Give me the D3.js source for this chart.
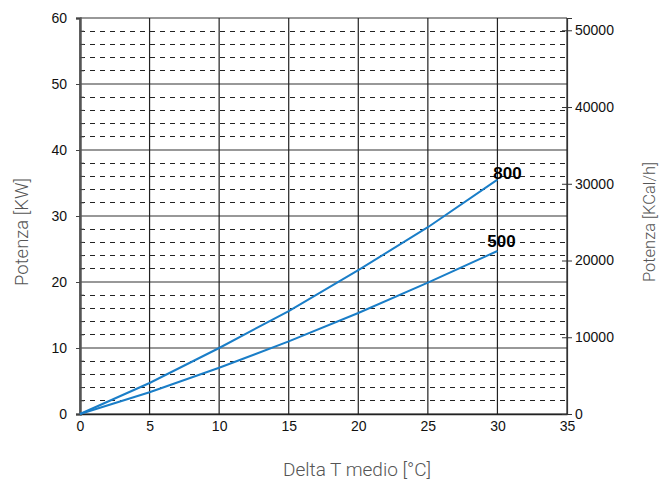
<!DOCTYPE html>
<html>
<head>
<meta charset="utf-8">
<script src="https://cdn.jsdelivr.net/npm/d3@7"></script>
<style>
  body { margin: 0; background: #fff; }
  .tick text { font-family: "Liberation Sans", Arial, sans-serif; font-size: 14px; fill: #111; }
  .title { font-family: Roboto, sans-serif; font-weight: 300; fill: #555; }
</style>
</head>
<body>
<div id="chart"></div>
<script>
var svgWidth = 660;
var svgHeight = 484;

var margin = { top: 18, right: 93, bottom: 70, left: 80 };
var width = svgWidth - margin.left - margin.right;
var height = svgHeight - margin.top - margin.bottom;

// values
var deltaT = [0, 5, 10, 15, 20, 25, 30];
var serie800 = [0, 4.7, 10, 15.6, 21.8, 28.3, 35.5];
var serie500 = [0, 3.3, 7, 11, 15.3, 19.9, 24.7];
var seriesNames = ["800", "500"];
var xTicks = [0, 5, 10, 15, 20, 25, 30, 35];
var yTicks = [0, 10, 20, 30, 40, 50, 60];
var yMinor = d3.range(0, 61, 2);
var kcalTicks = [0, 10000, 20000, 30000, 40000, 50000];

var svg = d3.select("#chart")
    .append("svg")
    .attr("width", svgWidth)
    .attr("height", svgHeight);

var chartGroup = svg.append("g")
    .attr("transform", `translate(${margin.left}, ${margin.top})`);

var x = d3.scaleLinear().domain([0, 35]).range([0, width]);
var y = d3.scaleLinear().domain([0, 60]).range([height, 0]);
var yKcal = d3.scaleLinear().domain([0, 60 * 860]).range([height, 0]);

// dashed minor grid
chartGroup.selectAll(".minor")
    .data(yMinor.filter(d => d % 10 != 0))
    .enter()
    .append("line")
    .attr("x1", 0).attr("x2", width)
    .attr("y1", d => y(d)).attr("y2", d => y(d))
    .attr("stroke", "#222")
    .attr("stroke-width", 1)
    .attr("stroke-dasharray", "5,5")
    .attr("shape-rendering", "crispEdges");

// major horizontal grid
chartGroup.selectAll(".hmajor")
    .data(yTicks)
    .enter()
    .append("line")
    .attr("x1", 0).attr("x2", width)
    .attr("y1", d => y(d)).attr("y2", d => y(d))
    .attr("stroke", "#333")
    .attr("stroke-width", 1.2);

// vertical grid
chartGroup.selectAll(".vmajor")
    .data(xTicks)
    .enter()
    .append("line")
    .attr("x1", d => x(d)).attr("x2", d => x(d))
    .attr("y1", 0).attr("y2", height)
    .attr("stroke", "#222")
    .attr("stroke-width", 1.2);

// left axis
var leftAxis = d3.axisLeft(y).tickValues(yTicks).tickSize(4).tickPadding(9);
var gLeft = chartGroup.append("g").call(leftAxis);
gLeft.select(".domain").attr("stroke", "#555").attr("stroke-width", 2.5);
gLeft.selectAll(".tick line").attr("stroke", "#444");

// minor inner ticks on the left
chartGroup.selectAll(".mtick")
    .data(yMinor.filter(d => d % 10 != 0))
    .enter()
    .append("line")
    .attr("x1", 0).attr("x2", 4)
    .attr("y1", d => y(d)).attr("y2", d => y(d))
    .attr("stroke", "#444");

// bottom axis
var bottomAxis = d3.axisBottom(x).tickValues(xTicks).tickSize(0).tickPadding(7);
var gBottom = chartGroup.append("g")
    .attr("transform", `translate(0, ${height})`)
    .call(bottomAxis);
gBottom.select(".domain").attr("stroke", "#222").attr("stroke-width", 1.5);

// right axis (KCal/h)
var rightAxis = d3.axisRight(yKcal).tickValues(kcalTicks).tickSize(5).tickPadding(3)
    .tickFormat(d3.format("d"));
var gRight = chartGroup.append("g")
    .attr("transform", `translate(${width}, 0)`)
    .call(rightAxis);
gRight.select(".domain").attr("stroke", "#333").attr("stroke-width", 1.2);
gRight.selectAll(".tick line").attr("x1", -5).attr("stroke", "#333");

// curves
var line = d3.line()
    .x((d, i) => x(deltaT[i]))
    .y(d => y(d));

var labelDx = [10, 4];
var labelDy = [-1, -4];

[serie800, serie500].forEach(function(s, k) {
    chartGroup.append("path")
        .datum(s)
        .attr("d", line)
        .attr("fill", "none")
        .attr("stroke", "#1a7ec8")
        .attr("stroke-width", 2);

    chartGroup.append("text")
        .attr("x", x(deltaT[deltaT.length - 1]) + labelDx[k])
        .attr("y", y(s[s.length - 1]) + labelDy[k])
        .attr("text-anchor", "middle")
        .style("font-family", "Liberation Sans, Arial, sans-serif")
        .style("font-weight", "bold")
        .style("font-size", "17px")
        .attr("fill", "#000")
        .text(seriesNames[k]);
});

// axis titles
chartGroup.append("text")
    .attr("class", "title")
    .attr("transform", "rotate(-90)")
    .attr("x", -(232 - margin.top))
    .attr("y", -52)
    .attr("text-anchor", "middle")
    .style("font-size", "18.5px")
    .text("Potenza [KW]");

chartGroup.append("text")
    .attr("class", "title")
    .attr("transform", "rotate(-90)")
    .attr("x", -(222 - margin.top))
    .attr("y", width + 88)
    .attr("text-anchor", "middle")
    .style("font-size", "16.5px")
    .text("Potenza [KCal/h]");

chartGroup.append("text")
    .attr("class", "title")
    .attr("x", 357 - margin.left)
    .attr("y", height + 62)
    .attr("text-anchor", "middle")
    .style("font-size", "19px")
    .text("Delta T medio [°C]");
</script>
</body>
</html>
